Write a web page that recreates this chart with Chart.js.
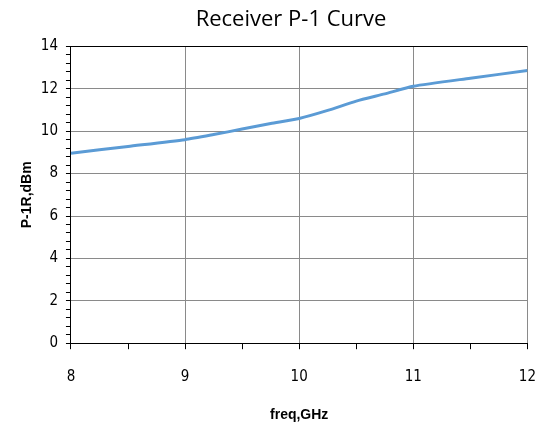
<!DOCTYPE html>
<html>
<head>
<meta charset="utf-8">
<script src="https://cdn.jsdelivr.net/npm/chart.js@4"></script>
<style>
  html, body { margin: 0; padding: 0; background: #fff; overflow: hidden; }
  /* canvas a bit wider than the window: the x tick padding also eats space on the right */
  #wrap { position: relative; width: 555px; height: 427px; }
  #wrap canvas { display: block; }
</style>
</head>
<body>
<div id="wrap"><canvas id="p1Chart"></canvas></div>
<script>
// values
const freqGHz = [8, 8.5, 9, 9.25, 9.5, 9.75, 10, 10.25, 10.5, 10.75, 11, 11.5, 12];
const p1dBm = [8.96, 9.28, 9.6, 9.84, 10.1, 10.36, 10.6, 10.98, 11.42, 11.76, 12.12, 12.5, 12.86];
const xTickLabels = [8, 9, 10, 11, 12];
const yTickLabels = [0, 2, 4, 6, 8, 10, 12, 14];

const tickFont = { family: "'Liberation Sans Narrow', 'DejaVu Sans Condensed', sans-serif", size: 15 };
const titleFont = { family: "'Liberation Sans', Arial, sans-serif", size: 14, weight: "bold" };

function isMajor(list, v) {
  return list.some(t => Math.abs(t - v) < 1e-6);
}

const ctx = document.getElementById("p1Chart").getContext("2d");

window.p1Chart = new Chart(ctx, {
  type: "line",
  data: {
    datasets: [{
      data: freqGHz.map((f, i) => ({ x: f, y: p1dBm[i] })),
      borderColor: "#5b9bd5",
      borderWidth: 3,
      pointRadius: 0,
      tension: 0.2,
      fill: false
    }]
  },
  options: {
    responsive: true,
    maintainAspectRatio: false,
    animation: false,
    layout: { padding: { left: 3, right: -24, top: 7, bottom: 3 } },
    plugins: {
      legend: { display: false },
      tooltip: { enabled: false },
      title: {
        display: true,
        text: "Receiver P-1 Curve",
        color: "#000",
        font: { family: "'Open Sans', sans-serif", size: 22, weight: "normal" },
        padding: { top: 0, bottom: 13 }
      }
    },
    scales: {
      x: {
        type: "linear",
        min: 8,
        max: 12,
        afterBuildTicks: axis => {
          const t = [];
          for (let v = 8; v <= 12.0001; v += 0.5) t.push({ value: Math.round(v * 10) / 10 });
          axis.ticks = t;
        },
        ticks: {
          color: "#000",
          font: tickFont,
          padding: 19,
          maxRotation: 0,
          autoSkip: false,
          callback: v => isMajor(xTickLabels, v) ? String(v) : ""
        },
        grid: {
          color: c => (c.tick && isMajor(xTickLabels, c.tick.value) && c.tick.value !== 8) ? "#8a8a8a" : "rgba(0,0,0,0)",
          tickColor: "#000",
          tickLength: 6
        },
        border: { color: "#000", width: 1 },
        title: {
          display: true,
          text: "freq,GHz",
          color: "#000",
          font: titleFont,
          padding: { top: 2, bottom: 0 }
        }
      },
      y: {
        min: 0,
        max: 14,
        afterBuildTicks: axis => {
          const t = [];
          for (let i = 0; i <= 35; i++) t.push({ value: Math.round(i * 4) / 10 });
          axis.ticks = t;
        },
        ticks: {
          color: "#000",
          font: tickFont,
          padding: 8,
          autoSkip: false,
          callback: v => isMajor(yTickLabels, v) ? String(v) : ""
        },
        grid: {
          color: c => {
            if (!c.tick) return "rgba(0,0,0,0)";
            const v = c.tick.value;
            if (Math.abs(v - 14) < 1e-6) return "#000";
            if (v === 0) return "rgba(0,0,0,0)";
            return isMajor(yTickLabels, v) ? "#8a8a8a" : "rgba(0,0,0,0)";
          },
          tickColor: "#000",
          tickLength: 5
        },
        border: { color: "#000", width: 1 },
        title: {
          display: true,
          text: "P-1R,dBm",
          color: "#000",
          font: titleFont,
          padding: { top: 16, bottom: -3 }
        }
      }
    }
  }
});
</script>
</body>
</html>
